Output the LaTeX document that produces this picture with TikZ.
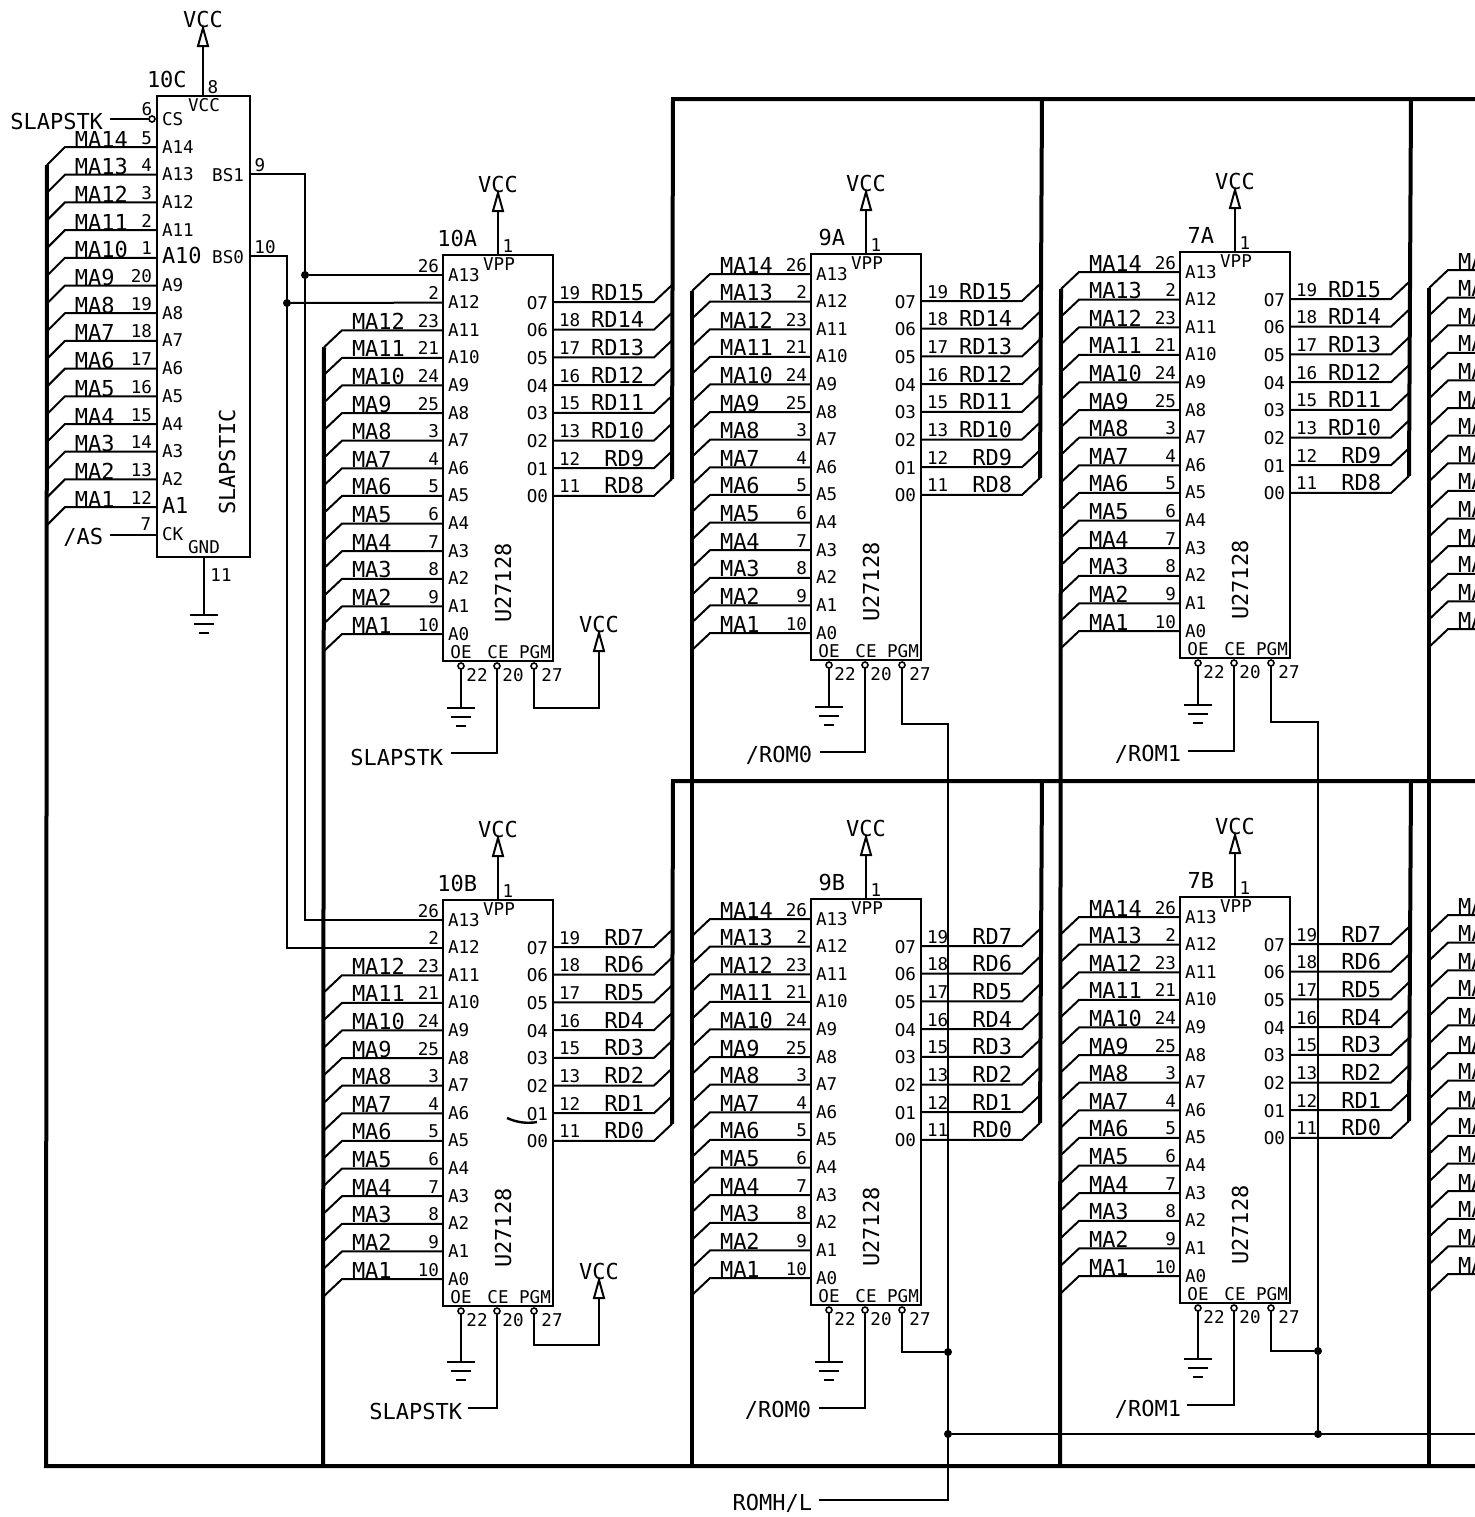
\documentclass[tikz,border=0pt]{standalone}
\usepackage{fontspec}
\newfontfamily\monof{DejaVu Sans Mono}
\tikzset{
  every node/.style={inner sep=0pt,outer sep=0pt},
  wire/.style={line width=1pt},
  busline/.style={line width=2pt},
  big/.style={font=\monof\fontsize{11}{12}\selectfont},
  pin/.style={font=\monof\fontsize{8.8}{10}\selectfont},
  chipbox/.style={draw,line width=1pt,minimum width=55pt,minimum height=203pt,anchor=north west},
  bub/.style={circle,draw,line width=.8pt,minimum size=3pt,fill=white},
  jdot/.style={circle,fill=black,minimum size=4pt},
}
% power symbol: #1 name, #2 x, #3 y of the tip
\newcommand\vccsym[3]{%
  \draw[wire] (#2,#3) -- (#2-5,#3+18) -- (#2+5,#3+18) -- cycle;
  \coordinate (#1) at (#2,#3+18);
  \node[big,name=#1-t] at (#2,#3-9) {VCC};
}
% ground symbol: #1 name, #2 x, #3 y
\newcommand\gndsym[3]{%
  \coordinate (#1) at (#2,#3);
  \draw[wire] (#2-14,#3) -- (#2+14,#3) (#2-10,#3+9) -- (#2+10,#3+9) (#2-5,#3+18) -- (#2+5,#3+18);
}
\newcommand\rdhigh{0/19/O7/RD15,1/18/O6/RD14,2/17/O5/RD13,3/16/O4/RD12,4/15/O3/RD11,5/13/O2/RD10,6/12/O1/RD9,7/11/O0/RD8}
\newcommand\rdlow{0/19/O7/RD7,1/18/O6/RD6,2/17/O5/RD5,3/16/O4/RD4,4/15/O3/RD3,5/13/O2/RD2,6/12/O1/RD1,7/11/O0/RD0}
% #1 name, #2 dx, #3 dy, #4 first labelled row, #5 data list, #6 ground y
\newcommand\romchip[6]{%
  \begin{scope}[shift={(#2,#3)}]
    \node[chipbox,name=#1] at (443,255) {};
    \node[big,anchor=base east,name=#1-ref] at (477,246) {#1};
    \node[pin,name=#1-one] at (508,246) {1};
    \node[pin,name=#1-vpp] at (499,264) {VPP};
    \vccsym{#1-vcc}{498}{193}
    \coordinate (#1-top) at (498,255);
    \draw[wire] (#1-top) -- (#1-vcc);
    \node[big,rotate=90,name=#1-type] at (503,583) {U27128};
    \foreach \k/\pn/\an/\ma [evaluate=\k as \yy using 275+27.62*\k] in
      {0/26/A13/MA14,1/2/A12/MA13,2/23/A11/MA12,3/21/A10/MA11,4/24/A9/MA10,5/25/A8/MA9,6/3/A7/MA8,
       7/4/A6/MA7,8/5/A5/MA6,9/6/A4/MA5,10/7/A3/MA4,11/8/A2/MA3,12/9/A1/MA2,13/10/A0/MA1}{
      \coordinate (#1-a\k) at (443,\yy);
      \node[pin,anchor=base east,name=#1-an\k] at (439,\yy-3) {\pn};
      \node[pin,anchor=base west,name=#1-ai\k] at (448,\yy+6) {\an};
      \ifnum\k<#4\relax\else
        \coordinate (#1-b\k) at (342,\yy);
        \coordinate (#1-e\k) at (324,\yy+17);
        \draw[wire] (#1-a\k) -- (#1-b\k) -- (#1-e\k);
        \node[big,anchor=base west,name=#1-m\k] at (352,\yy-1) {\ma};
      \fi
    }
    \foreach \k/\pn/\on/\rd [evaluate=\k as \yy using 302+27.7*\k] in #5 {
      \coordinate (#1-o\k) at (553,\yy);
      \coordinate (#1-f\k) at (654,\yy);
      \coordinate (#1-g\k) at (672,\yy-17);
      \draw[wire] (#1-o\k) -- (#1-f\k) -- (#1-g\k);
      \node[pin,anchor=base east,name=#1-on\k] at (548,\yy+7) {\on};
      \node[pin,anchor=base west,name=#1-dn\k] at (559,\yy-3) {\pn};
      \node[big,anchor=base east,name=#1-d\k] at (644,\yy-2) {\rd};
    }
    \node[pin,name=#1-oet] at (461,652) {OE};
    \node[pin,name=#1-cet] at (498,652) {CE};
    \node[pin,name=#1-pgt] at (535,652) {PGM};
    \node[bub,name=#1-oe] at (461,666) {};
    \node[bub,name=#1-ce] at (497,666) {};
    \node[bub,name=#1-pg] at (534,666) {};
    \node[pin,name=#1-oen] at (477,675) {22};
    \node[pin,name=#1-cen] at (513,675) {20};
    \node[pin,name=#1-pgn] at (552,675) {27};
    \gndsym{#1-gnd}{461}{#6}
    \draw[wire] (#1-oe) -- (#1-gnd);
  \end{scope}
}
\begin{document}
\begin{tikzpicture}[x=0.5pt,y=-0.5pt]
\useasboundingbox (0,0) rectangle (1475,1517);
\clip (0,0) rectangle (1475,1517);

% ---- SLAPSTIC chip
\node[chipbox,minimum width=46.5pt,minimum height=230.5pt,name=10C] at (157,96) {};
\node[big,anchor=base west,name=10C-ref] at (147,87) {10C};
\node[pin,name=10C-eight] at (213,87) {8};
\node[pin,name=10C-vcct] at (204,105) {VCC};
\vccsym{10C-vcc}{203}{28}
\coordinate (10C-top) at (203,96);
\draw[wire] (10C-top) -- (10C-vcc);
\foreach \k/\pn/\an/\ma/\st [evaluate=\k as \yy using 147+27.7*\k] in
  {0/5/A14/MA14/pin,1/4/A13/MA13/pin,2/3/A12/MA12/pin,3/2/A11/MA11/pin,4/1/A10/MA10/big,5/20/A9/MA9/pin,6/19/A8/MA8/pin,
   7/18/A7/MA7/pin,8/17/A6/MA6/pin,9/16/A5/MA5/pin,10/15/A4/MA4/pin,11/14/A3/MA3/pin,12/13/A2/MA2/pin,13/12/A1/MA1/big}{
  \coordinate (10C-a\k) at (157,\yy);
  \coordinate (10C-b\k) at (65,\yy);
  \coordinate (10C-e\k) at (47,\yy+18);
  \draw[wire] (10C-a\k) -- (10C-b\k) -- (10C-e\k);
  \node[big,anchor=base west,name=10C-m\k] at (75,\yy) {\ma};
  \node[pin,anchor=base east,name=10C-n\k] at (152,\yy-3) {\pn};
  \node[\st,anchor=base west,name=10C-i\k] at (162,\yy+6) {\an};
}
\node[pin,anchor=base west,name=10C-cs] at (162,125) {CS};
\node[bub,name=10C-csb] at (152,119) {};
\node[pin,name=10C-six] at (147,109) {6};
\node[big,anchor=base east,name=lcs] at (103,129) {SLAPSTK};
\coordinate (lcs-e) at (110,119);
\draw[wire] (lcs-e) -- (10C-csb);
\node[pin,anchor=base west,name=10C-ck] at (162,540) {CK};
\node[pin,name=10C-seven] at (146,524) {7};
\node[big,anchor=east,name=las] at (103,537) {/AS};
\coordinate (las-e) at (110,535);
\coordinate (10C-clk) at (157,535);
\draw[wire] (las-e) -- (10C-clk);
\node[pin,anchor=east,name=10C-bs1t] at (244,175) {BS1};
\node[pin,anchor=east,name=10C-bs0t] at (244,257) {BS0};
\node[pin,name=10C-nine] at (260,165) {9};
\node[pin,name=10C-ten] at (265,247) {10};
\node[big,rotate=90,name=10C-type] at (227,462) {SLAPSTIC};
\node[pin,name=10C-gndt] at (204,547) {GND};
\node[pin,name=10C-eleven] at (221,575) {11};
\coordinate (10C-bot) at (204,557);
\gndsym{10C-gnd}{204}{615}
\draw[wire] (10C-bot) -- (10C-gnd);

% ---- EPROMs
\romchip{10A}{0}{0}{2}{\rdhigh}{708}
\romchip{9A}{368}{-1}{0}{\rdhigh}{708}
\romchip{7A}{737}{-3}{0}{\rdhigh}{708}
\romchip{10B}{0}{645}{2}{\rdlow}{717}
\romchip{9B}{368}{644}{0}{\rdlow}{718}
\romchip{7B}{737}{642}{0}{\rdlow}{717}

% ---- bank select lines from the SLAPSTIC
\coordinate (bs1) at (250,174);
\coordinate (bs0) at (250,256);
\coordinate (v1) at (305,174);
\coordinate (v0) at (287,256);
\node[jdot,name=j1] at (305,275) {};
\node[jdot,name=j0] at (287,303) {};
\draw[wire] (bs1) -- (v1) |- (10B-a0);
\draw[wire] (bs0) -- (v0) |- (10B-a1);
\draw[wire] (j1) -- (10A-a0);
\draw[wire] (j0) -- (10A-a1);

% ---- chip enables
\node[big,anchor=east,name=l10A] at (443,757) {SLAPSTK};
\coordinate (c10A) at (451,753);
\draw[wire] (10A-ce) |- (c10A);
\node[big,anchor=east,name=l9A] at (812,755) {/ROM0};
\coordinate (c9A) at (820,752);
\draw[wire] (9A-ce) |- (c9A);
\node[big,anchor=east,name=l7A] at (1181,754) {/ROM1};
\coordinate (c7A) at (1188,751);
\draw[wire] (7A-ce) |- (c7A);
\node[big,anchor=east,name=l10B] at (462,1411) {SLAPSTK};
\coordinate (c10B) at (468,1408);
\draw[wire] (10B-ce) |- (c10B);
\node[big,anchor=east,name=l9B] at (811,1410) {/ROM0};
\coordinate (c9B) at (819,1408);
\draw[wire] (9B-ce) |- (c9B);
\node[big,anchor=east,name=l7B] at (1181,1409) {/ROM1};
\coordinate (c7B) at (1187,1405);
\draw[wire] (7B-ce) |- (c7B);

% ---- program pins
\vccsym{p10A}{599}{633}
\coordinate (k10A) at (599,708);
\draw[wire] (10A-pg) |- (k10A) -- (p10A);
\vccsym{p10B}{599}{1280}
\coordinate (k10B) at (599,1345);
\draw[wire] (10B-pg) |- (k10B) -- (p10B);

% ---- ROMH/L net
\node[big,anchor=east,name=lrom] at (812,1503) {ROMH/L};
\coordinate (rom0) at (819,1500);
\coordinate (rom1) at (948,1500);
\coordinate (t9) at (948,724);
\coordinate (t7) at (1318,722);
\node[jdot,name=j9B] at (948,1352) {};
\node[jdot,name=j7B] at (1318,1351) {};
\node[jdot,name=jbus] at (948,1434) {};
\node[jdot,name=jbus7] at (1318,1434) {};
\coordinate (romend) at (1475,1434);
\draw[wire] (rom0) -- (rom1) -- (t9) -| (9A-pg);
\draw[wire] (jbus7) -- (t7) -| (7A-pg);
\draw[wire] (j9B) -| (9B-pg);
\draw[wire] (j7B) -| (7B-pg);
\draw[wire] (jbus) -- (romend);

% ---- partly visible next column
\foreach \k [evaluate=\k as \yy using 270+27.62*\k] in {0,...,13}{
  \coordinate (na\k) at (1448,\yy);
  \coordinate (nae\k) at (1429,\yy+18);
  \coordinate (nax\k) at (1475,\yy);
  \draw[wire] (nax\k) -- (na\k) -- (nae\k);
  \node[big,anchor=base west,name=nat\k] at (1458,\yy-1) {MA};
}
\foreach \k [evaluate=\k as \yy using 915+27.62*\k] in {0,...,13}{
  \coordinate (nb\k) at (1448,\yy);
  \coordinate (nbe\k) at (1429,\yy+18);
  \coordinate (nbx\k) at (1475,\yy);
  \draw[wire] (nbx\k) -- (nb\k) -- (nbe\k);
  \node[big,anchor=base west,name=nbt\k] at (1458,\yy-1) {MA};
}

% ---- data buses
\coordinate (tl) at (673,99);
\coordinate (tr) at (1475,99);
\coordinate (ml) at (673,781);
\coordinate (mr) at (1475,781);
\coordinate (d1) at (1042,99);
\coordinate (d2) at (1411,99);
\coordinate (d3) at (1042,781);
\coordinate (d4) at (1411,781);
\draw[busline] (tr) -- (tl) -- (10A-g7);
\draw[busline] (d1) -- (9A-g7);
\draw[busline] (d2) -- (7A-g7);
\draw[busline] (mr) -- (ml) -- (10B-g7);
\draw[busline] (d3) -- (9B-g7);
\draw[busline] (d4) -- (7B-g7);

% ---- address buses
\coordinate (bl) at (46,1466);
\coordinate (br) at (1475,1466);
\coordinate (b1) at (323,1466);
\coordinate (b2) at (692,1466);
\coordinate (b3) at (1060,1466);
\coordinate (b4) at (1429,1466);
\draw[busline] (br) -- (bl) -- (10C-e0);
\draw[busline] (10A-e2) -- (b1);
\draw[busline] (9A-e0) -- (b2);
\draw[busline] (7A-e0) -- (b3);
\draw[busline] (nae0) -- (b4);

% ---- stray mark on the drawing
\draw[line width=1.2pt] (507,1118) .. controls (516,1122) and (526,1124) .. (537,1122);
\end{tikzpicture}
\end{document}
